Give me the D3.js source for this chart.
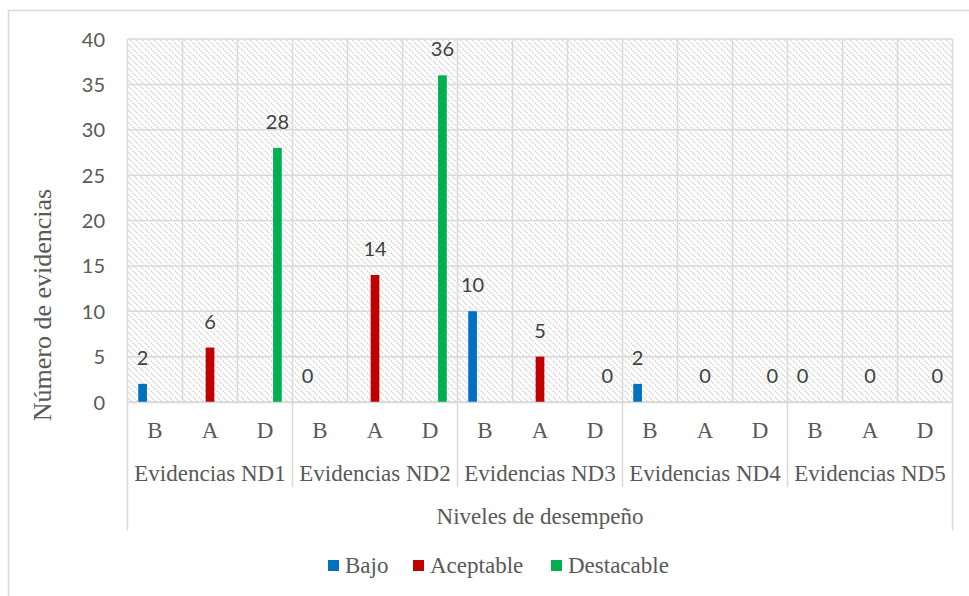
<!DOCTYPE html>
<html><head><meta charset="utf-8">
<script src="https://cdn.jsdelivr.net/npm/d3@7"></script>
<style>
body{margin:0;background:#fff}svg{display:block}
.serif{font-family:"Liberation Serif","Times New Roman",Tinos,serif;fill:#595959}
.sans{font-family:Lato,"Open Sans",sans-serif}
</style>
</head><body>
<svg id="c" width="969" height="596"></svg>
<script>
const groups = ["Evidencias ND1","Evidencias ND2","Evidencias ND3","Evidencias ND4","Evidencias ND5"];
const subcats = ["B","A","D"];
const seriesNames = ["Bajo","Aceptable","Destacable"];
const seriesColors = ["#0070C0","#C00000","#00B050"];
// one value per sub-category (B -> Bajo, A -> Aceptable, D -> Destacable)
const bajo       = [2, 0, 10, 2, 0];
const aceptable  = [6, 14, 5, 0, 0];
const destacable = [28, 36, 0, 0, 0];
const yTicks = [0,5,10,15,20,25,30,35,40];

const seriesVals = [bajo, aceptable, destacable];
const cats = [];
groups.forEach((g,gi)=>subcats.forEach((s,si)=>cats.push({id:gi+"-"+si,g:gi,s:si,label:s,series:si,value:seriesVals[si][gi]})));

const svg = d3.select("#c");
const L=127.5, R=952.5, T=39, B=402;
const x = d3.scaleBand().domain(cats.map(d=>d.id)).range([L,R]);
const xs = d3.scaleBand().domain(d3.range(3)).range([-18,18]).paddingInner(0.3).paddingOuter(0.1);
const y = d3.scaleLinear().domain([0,40]).range([B,T]);

// outer border
svg.append("path").attr("d","M8.5,596 V10.5 H969").attr("fill","none").attr("stroke","#d9d9d9").attr("stroke-width",1.5);

// pattern
const defs = svg.append("defs");
const pat = defs.append("pattern").attr("id","hatch").attr("patternUnits","userSpaceOnUse").attr("width",6).attr("height",6);
pat.append("rect").attr("width",6).attr("height",6).attr("fill","#fff");
pat.append("path").attr("d","M-1,-1 L7,7 M-1,5 L1,7 M5,-1 L7,1").attr("stroke","#cfcfcf").attr("stroke-width",1.3).attr("stroke-dasharray","1.5,1");
svg.append("rect").attr("x",L).attr("y",T).attr("width",R-L).attr("height",B-T).attr("fill","url(#hatch)");

// horizontal gridlines
svg.append("g").selectAll("line").data(yTicks).join("line")
  .attr("x1",L).attr("x2",R).attr("y1",d=>y(d)).attr("y2",d=>y(d))
  .attr("stroke","#d9d9d9").attr("stroke-width",1.5);
// vertical gridlines at category boundaries
svg.append("g").selectAll("line").data(cats).join("line")
  .attr("x1",d=>x(d.id)).attr("x2",d=>x(d.id)).attr("y1",T).attr("y2",B)
  .attr("stroke","#d9d9d9").attr("stroke-width",1.5);
svg.append("line").attr("x1",R).attr("x2",R).attr("y1",T).attr("y2",530).attr("stroke","#d9d9d9").attr("stroke-width",1.5);

// group separators below axis
svg.append("g").selectAll("line").data(groups).join("line")
  .attr("x1",(d,i)=>x(i+"-0")).attr("x2",(d,i)=>x(i+"-0"))
  .attr("y1",B).attr("y2",(d,i)=>i===0?530:487)
  .attr("stroke","#d9d9d9").attr("stroke-width",1.5);

// bars
const cx = d=>x(d.id)+x.bandwidth()/2;
svg.append("g").selectAll("rect").data(cats.filter(d=>d.value>0)).join("rect")
  .attr("x",d=>cx(d)+xs(d.series))
  .attr("y",d=>y(d.value)).attr("width",xs.bandwidth()).attr("height",d=>B-y(d.value))
  .attr("fill",d=>seriesColors[d.series]);

// data labels
svg.append("g").selectAll("text").data(cats).join("text")
  .attr("class","sans")
  .attr("x",d=>cx(d)+xs(d.series)+xs.bandwidth()/2).attr("y",d=>y(d.value)-19)
  .attr("text-anchor","middle").attr("font-size",20)
  .attr("fill","#404040").text(d=>d.value);

// y axis tick labels
const yAxis = d3.axisLeft(y).tickValues(yTicks).tickSize(0).tickPadding(0);
const ya = svg.append("g").attr("transform",`translate(105,0)`).call(yAxis);
ya.select(".domain").remove();
ya.attr("font-family",null);
ya.selectAll("text").attr("class","sans").attr("font-size",20).attr("fill","#595959").attr("dy","0.35em");

// x axis: sub-category labels
const xAxis = d3.axisBottom(x).tickFormat(id=>cats.find(c=>c.id===id).label).tickSize(0).tickPadding(0);
const xa = svg.append("g").attr("transform",`translate(0,${B})`).call(xAxis);
xa.attr("font-family",null);
xa.select(".domain").attr("stroke","#d9d9d9").attr("stroke-width",1.5);
xa.selectAll("text").attr("class","serif").attr("font-size",23).attr("fill","#595959").attr("y",36).attr("dy",0);

// group labels
svg.append("g").selectAll("text").data(groups).join("text")
  .attr("class","serif")
  .attr("x",(d,i)=>x(i+"-1")+x.bandwidth()/2).attr("y",481)
  .attr("text-anchor","middle").attr("font-size",23).text(d=>d);

// axis titles
svg.append("text").attr("class","serif").attr("x",(L+R)/2).attr("y",524).attr("text-anchor","middle")
  .attr("font-size",23).text("Niveles de desempeño");
svg.append("text").attr("class","serif").attr("transform",`translate(51,305) rotate(-90)`).attr("text-anchor","middle")
  .attr("font-size",26).text("Número de evidencias");

// legend
const legX = [328, 413, 551];
const lg = svg.append("g").selectAll("g").data(seriesNames).join("g").attr("transform",(d,i)=>`translate(${legX[i]},560)`);
lg.append("rect").attr("x",0).attr("y",0).attr("width",11).attr("height",11).attr("fill",(d,i)=>seriesColors[i]);
lg.append("text").attr("class","serif").attr("x",17).attr("y",13).attr("font-size",23).text(d=>d);
</script>
</body></html>
